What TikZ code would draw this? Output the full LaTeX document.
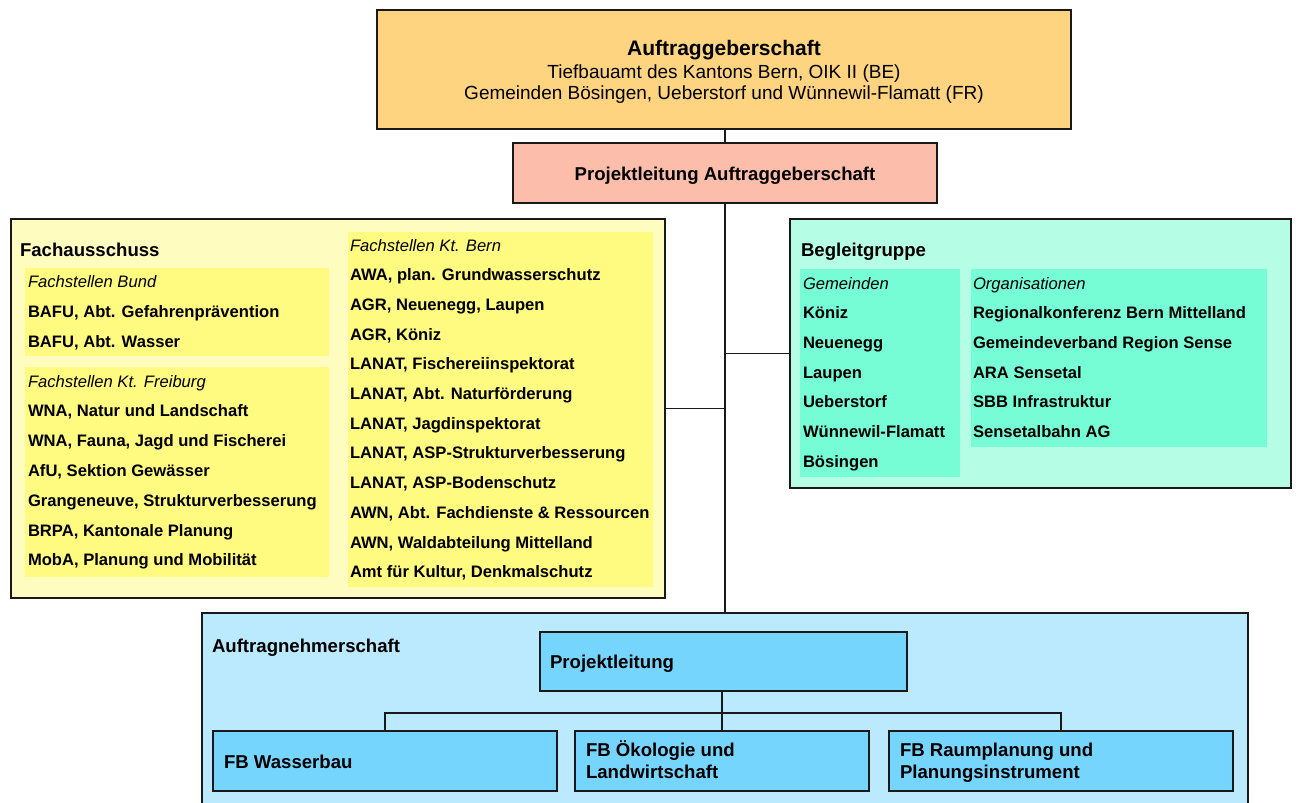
\documentclass[tikz,border=0pt]{standalone}
\usepackage{fontspec}
\setmainfont{Liberation Sans}
\usetikzlibrary{fit,calc}
\definecolor{cTop}{RGB}{254,212,128}
\definecolor{cPla}{RGB}{252,189,170}
\definecolor{cFaO}{RGB}{255,252,192}
\definecolor{cFaI}{RGB}{255,250,128}
\definecolor{cBgO}{RGB}{182,253,230}
\definecolor{cBgI}{RGB}{118,253,214}
\definecolor{cAnO}{RGB}{187,233,253}
\definecolor{cAnI}{RGB}{118,213,253}
\definecolor{cLine}{RGB}{25,25,25}
\newcommand\ftitle{\fontsize{18.6}{22}\selectfont\bfseries}
\newcommand\fitem{\fontsize{16.6}{20}\selectfont\bfseries}
\newcommand\fsub{\fontsize{16.6}{20}\selectfont\itshape}
\newcommand\fhead{\fontsize{21}{25}\selectfont\bfseries}
\newcommand\fplain{\fontsize{19}{23}\selectfont}
\tikzset{
  box/.style={draw=cLine, line width=1.6pt, inner sep=0pt, outer sep=0pt, rectangle},
  panel/.style={draw=none, inner sep=0pt, outer sep=0pt, rectangle},
  conn/.style={draw=cLine, line width=1.6pt},
  lbl/.style={anchor=base west, inner sep=0pt, outer sep=0pt},
  clbl/.style={anchor=base, inner sep=0pt, outer sep=0pt},
}
\begin{document}
\begin{tikzpicture}[x=1pt,y=-1pt]
\useasboundingbox (0,0) rectangle (1296,803);
\clip (0,0) rectangle (1296,803);
\fill[white] (0,0) rectangle (1296,803);

% main boxes
\node[box, fill=cTop, fit={(377,10) (1071,129)}] (top) {};
\node[box, fill=cPla, fit={(513,143) (937,203)}] (pla) {};
\node[box, fill=cFaO, fit={(11,219) (665,598)}] (fa) {};
\node[box, fill=cBgO, fit={(790,219) (1291,488)}] (bg) {};
\node[box, fill=cAnO, fit={(202,613) (1248,815)}] (an) {};

% trunk connectors
\draw[conn] (pla.north |- top.south) -- (pla.north);
\draw[conn] (pla.south) -- (an.north);
\draw[conn] (fa.east) -- (fa.east -| pla.south);
\draw[conn] (bg.west) -- (bg.west -| pla.south);

% top texts
\node[clbl, font=\fhead] (t1) at (724,55) {Auftraggeberschaft};
\node[clbl, font=\fplain] (t2) at (724,78) {Tiefbauamt des Kantons Bern, OIK II (BE)};
\node[clbl, font=\fplain] (t3) at (724,99) {Gemeinden Bösingen, Ueberstorf und Wünnewil-Flamatt (FR)};
\node[clbl, font=\ftitle] (t4) at (725,180) {Projektleitung Auftraggeberschaft};

% Fachausschuss
\node[lbl, font=\ftitle] (fat) at (20,256) {Fachausschuss};
\node[panel, fill=cFaI, fit={(25,268) (329,356)}] (pBund) {};
\node[panel, fill=cFaI, fit={(25,367) (329,577)}] (pFr) {};
\node[panel, fill=cFaI, fit={(348,232) (653,587)}] (pBe) {};

\node[lbl, font=\fsub] (b0) at (28,287) {Fachstellen Bund};
\node[lbl, font=\fitem] (b1) at (28,317) {BAFU, Abt. Gefahrenprävention};
\node[lbl, font=\fitem] (b2) at (28,347) {BAFU, Abt. Wasser};

\node[lbl, font=\fsub] (f0) at (28,387) {Fachstellen Kt. Freiburg};
\node[lbl, font=\fitem] (f1) at (28,416.8) {WNA, Natur und Landschaft};
\node[lbl, font=\fitem] (f2) at (28,446.6) {WNA, Fauna, Jagd und Fischerei};
\node[lbl, font=\fitem] (f3) at (28,476.4) {AfU, Sektion Gewässer};
\node[lbl, font=\fitem] (f4) at (28,506.2) {Grangeneuve, Strukturverbesserung};
\node[lbl, font=\fitem] (f5) at (28,536) {BRPA, Kantonale Planung};
\node[lbl, font=\fitem] (f6) at (28,565.8) {MobA, Planung und Mobilität};

\node[lbl, font=\fsub] (e0) at (350,251) {Fachstellen Kt. Bern};
\node[lbl, font=\fitem] (e1) at (350,280.7) {AWA, plan. Grundwasserschutz};
\node[lbl, font=\fitem] (e2) at (350,310.4) {AGR, Neuenegg, Laupen};
\node[lbl, font=\fitem] (e3) at (350,340.1) {AGR, Köniz};
\node[lbl, font=\fitem] (e4) at (350,369.8) {LANAT, Fischereiinspektorat};
\node[lbl, font=\fitem] (e5) at (350,399.5) {LANAT, Abt. Naturförderung};
\node[lbl, font=\fitem] (e6) at (350,429.2) {LANAT, Jagdinspektorat};
\node[lbl, font=\fitem] (e7) at (350,458.9) {LANAT, ASP-Strukturverbesserung};
\node[lbl, font=\fitem] (e8) at (350,488.6) {LANAT, ASP-Bodenschutz};
\node[lbl, font=\fitem] (e9) at (350,518.3) {AWN, Abt. Fachdienste \& Ressourcen};
\node[lbl, font=\fitem] (e10) at (350,548) {AWN, Waldabteilung Mittelland};
\node[lbl, font=\fitem] (e11) at (350,577.7) {Amt für Kultur, Denkmalschutz};

% Begleitgruppe
\node[lbl, font=\ftitle] (bgt) at (801,256) {Begleitgruppe};
\node[panel, fill=cBgI, fit={(800,269) (960,477)}] (pGem) {};
\node[panel, fill=cBgI, fit={(971,269) (1267,447)}] (pOrg) {};
\node[lbl, font=\fsub] (g0) at (803,289) {Gemeinden};
\node[lbl, font=\fitem] (g1) at (803,318.7) {Köniz};
\node[lbl, font=\fitem] (g2) at (803,348.4) {Neuenegg};
\node[lbl, font=\fitem] (g3) at (803,378.1) {Laupen};
\node[lbl, font=\fitem] (g4) at (803,407.8) {Ueberstorf};
\node[lbl, font=\fitem] (g5) at (803,437.5) {Wünnewil-Flamatt};
\node[lbl, font=\fitem] (g6) at (803,467.2) {Bösingen};
\node[lbl, font=\fsub] (o0) at (973,289) {Organisationen};
\node[lbl, font=\fitem] (o1) at (973,318.7) {Regionalkonferenz Bern Mittelland};
\node[lbl, font=\fitem] (o2) at (973,348.4) {Gemeindeverband Region Sense};
\node[lbl, font=\fitem] (o3) at (973,378.1) {ARA Sensetal};
\node[lbl, font=\fitem] (o4) at (973,407.8) {SBB Infrastruktur};
\node[lbl, font=\fitem] (o5) at (973,437.5) {Sensetalbahn AG};

% Auftragnehmerschaft
\node[lbl, font=\ftitle] (ant) at (212,652) {Auftragnehmerschaft};
\node[box, fill=cAnI, fit={(540,632) (907,691)}] (pl) {};
\node[box, fill=cAnI, fit={(213,731) (557,791)}] (fb1) {};
\node[box, fill=cAnI, fit={(575,731) (869,791)}] (fb2) {};
\node[box, fill=cAnI, fit={(889,731) (1233,791)}] (fb3) {};
\coordinate (bus) at (0,713);
\draw[conn] (fb2.north |- pl.south) -- (fb2.north);
\draw[conn] (fb1.north) |- (fb3.north |- bus) -- (fb3.north);

\node[lbl, font=\ftitle] (plt) at (550,668) {Projektleitung};
\node[lbl, font=\ftitle] (fb1t) at (224,768) {FB Wasserbau};
\node[lbl, font=\ftitle] (fb2a) at (586,756) {FB Ökologie und};
\node[lbl, font=\ftitle] (fb2b) at (586,778) {Landwirtschaft};
\node[lbl, font=\ftitle] (fb3a) at (900,756) {FB Raumplanung und};
\node[lbl, font=\ftitle] (fb3b) at (900,778) {Planungsinstrument};
\end{tikzpicture}
\end{document}
